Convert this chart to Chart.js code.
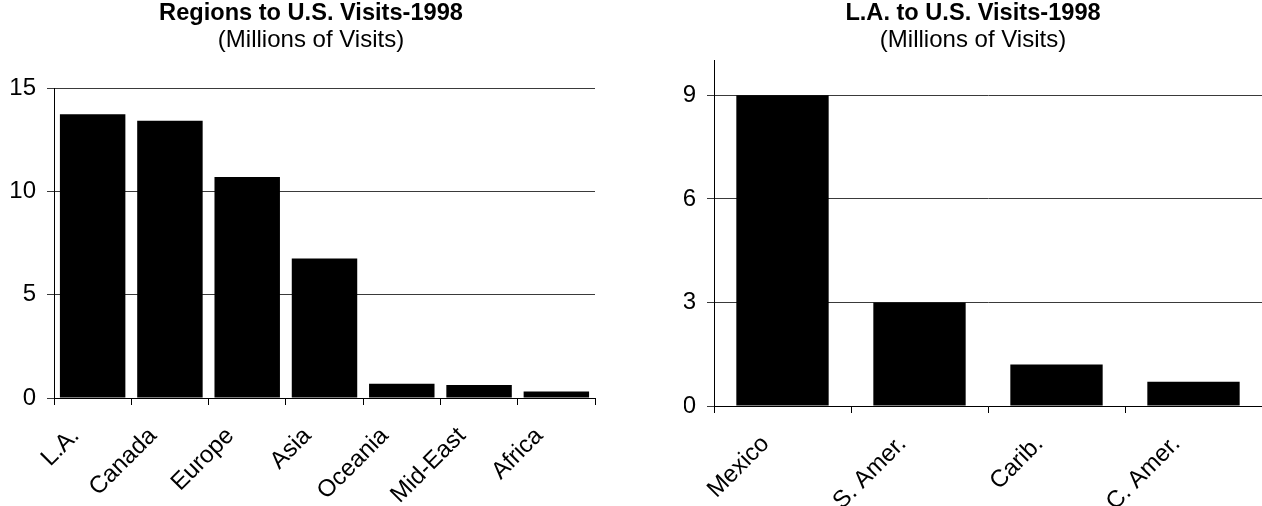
<!DOCTYPE html>
<html>
<head>
<meta charset="utf-8">
<title>Visits to U.S. - 1998</title>
<script src="https://cdn.jsdelivr.net/npm/chart.js@4/dist/chart.umd.min.js"></script>
<style>
  html, body { margin: 0; padding: 0; background: #fff; overflow: hidden; }
  body { width: 1262px; height: 506px; position: relative; }
  canvas { position: absolute; top: 0; }
  #graficoRegioes { left: 0; }
  #graficoLA { left: 684px; }
</style>
</head>
<body>
<canvas id="graficoRegioes" width="622" height="506"></canvas>
<canvas id="graficoLA" width="578" height="506"></canvas>

<script>
// ==========================
// Data (millions of visits)
// ==========================
const regionLabels = ["L.A.", "Canada", "Europe", "Asia", "Oceania", "Mid-East", "Africa"];
const regionVisits = [13.75, 13.43, 10.71, 6.76, 0.69, 0.63, 0.32];
const regionTicks = [0, 5, 10, 15];

const laLabels = ["Mexico", "S. Amer.", "Carib.", "C. Amer."];
const laVisits = [9.0, 3.0, 1.2, 0.7];
const laTicks = [0, 3, 6, 9];

const FONT = "'Liberation Sans', Arial, sans-serif";

// ==========================
// Build one bar chart
// ==========================
function criarGrafico(id, cfg) {
  const ctx = document.getElementById(id).getContext("2d");

  const scales = {
    x: {
      offset: true,
      grid: { drawOnChartArea: false, offset: true, color: "#000", tickLength: 7 },
      border: { color: "#000", width: 1 },
      ticks: {
        color: "#000",
        font: { family: FONT, size: 24 },
        autoSkip: false,
        minRotation: 45,
        maxRotation: 45,
        padding: 17,
        labelOffset: -17,
      },
      afterFit: (scale) => { scale.height = cfg.xHeight; },
    },
    y: {
      min: 0,
      max: cfg.max,
      grid: { color: "#3a3a3a", tickLength: 7 },
      border: { color: "#000", width: 1 },
      ticks: { color: "#000", font: { family: FONT, size: 24 }, padding: 11 },
      afterBuildTicks: (scale) => { scale.ticks = cfg.ticks.map((v) => ({ value: v })); },
      afterFit: (scale) => { scale.width = cfg.yWidth; },
    },
  };

  // empty right-hand box so the titles stay centred on the whole figure
  if (cfg.spaceRight) {
    scales.yDireita = {
      position: "right",
      grid: { display: false },
      border: { display: false },
      ticks: { display: false },
      afterFit: (scale) => { scale.width = cfg.spaceRight; },
    };
  }

  return new Chart(ctx, {
    type: "bar",
    data: {
      labels: cfg.labels,
      datasets: [
        {
          data: cfg.values,
          yAxisID: "y",
          backgroundColor: "#000",
          borderWidth: 0,
          categoryPercentage: 1,
          barPercentage: cfg.barPct,
        },
      ],
    },
    options: {
      responsive: false,
      animation: false,
      devicePixelRatio: 1,
      layout: { padding: 0 },
      plugins: {
        legend: { display: false },
        tooltip: { enabled: false },
        title: {
          display: true,
          text: cfg.title,
          color: "#000",
          font: { family: FONT, size: 23.6, weight: "bold", lineHeight: 1.1 },
          padding: { top: 1, bottom: 0 },
        },
        subtitle: {
          display: true,
          text: "(Millions of Visits)",
          color: "#000",
          font: { family: FONT, size: 24, weight: "normal", lineHeight: 1.1 },
          padding: { top: 0, bottom: cfg.subPad },
        },
      },
      scales,
    },
  });
}

// ==========================
// Init
// ==========================
criarGrafico("graficoRegioes", {
  labels: regionLabels,
  values: regionVisits,
  ticks: regionTicks,
  title: "Regions to U.S. Visits-1998",
  max: 15,
  barPct: 0.847,
  spaceRight: 27,
  subPad: 35,
  yWidth: 54,
  xHeight: 108,
});

criarGrafico("graficoLA", {
  labels: laLabels,
  values: laVisits,
  ticks: laTicks,
  title: "L.A. to U.S. Visits-1998",
  max: 10,
  barPct: 0.674,
  spaceRight: 0,
  subPad: 7.5,
  yWidth: 30,
  xHeight: 100,
});
</script>
</body>
</html>
